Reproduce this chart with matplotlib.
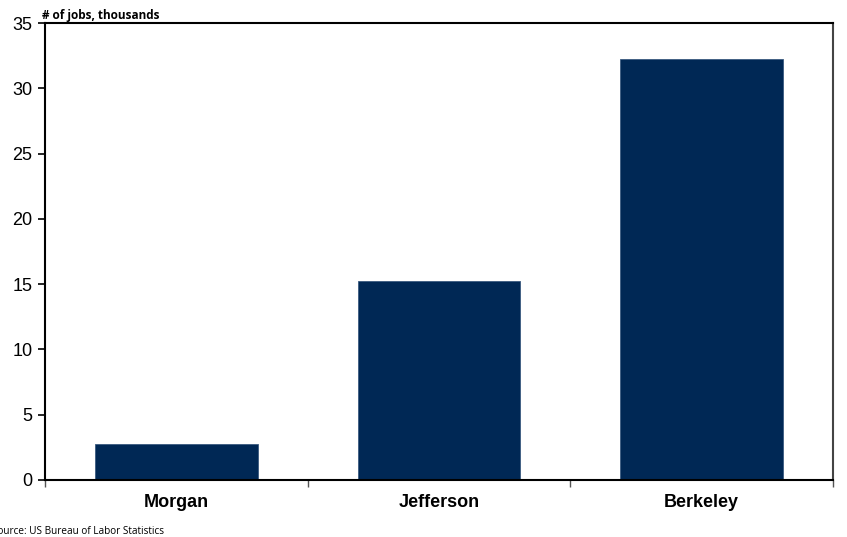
import matplotlib.pyplot as plt
import numpy as np
from matplotlib.ticker import FixedLocator

counties = ["Morgan", "Jefferson", "Berkeley"]
jobs = [2.75, 15.25, 32.25]
yticks = [0, 5, 10, 15, 20, 25, 30, 35]

W, H = 847, 537
fig = plt.figure(figsize=(W / 100, H / 100), dpi=100)
ax = fig.add_axes([45 / W, (H - 480) / H, (833 - 45) / W, (480 - 23) / H])

x = np.arange(len(counties))
ax.bar(x, jobs, width=0.62, color="#002855", edgecolor="#3a5a80", linewidth=0.6, zorder=2)

ax.set_xlim(-0.5, len(counties) - 0.5)
ax.set_ylim(0, 35)
ax.set_yticks(yticks)
ax.set_yticklabels([str(v) for v in yticks], fontsize=13, family="Liberation Sans")

# category labels sit between the boundary ticks
ax.xaxis.set_major_locator(FixedLocator(np.arange(len(counties) + 1) - 0.5))
ax.xaxis.set_minor_locator(FixedLocator(x))
ax.set_xticklabels([""] * (len(counties) + 1))
ax.set_xticklabels(counties, minor=True, fontsize=13, fontweight="bold", family="Liberation Sans")
ax.tick_params(axis="x", which="minor", length=0, pad=10)
ax.tick_params(axis="x", which="major", length=5, width=1, color="#555555")
ax.tick_params(axis="y", length=5, width=1.2, pad=4)

for side in ["left", "bottom", "top"]:
    ax.spines[side].set_linewidth(1.5)
    ax.spines[side].set_color("black")
ax.spines["right"].set_linewidth(1.5)
ax.spines["right"].set_color("#444444")

fig.text(42 / W, 1 - 16 / H, "# of jobs, thousands", fontsize=8.5, fontweight="bold",
         family="Open Sans", va="center")
fig.text(-8 / W, 1 - 531 / H, "Source: US Bureau of Labor Statistics", fontsize=7.2,
         family="Open Sans", va="center")

fig.savefig("out.png", dpi=100)
